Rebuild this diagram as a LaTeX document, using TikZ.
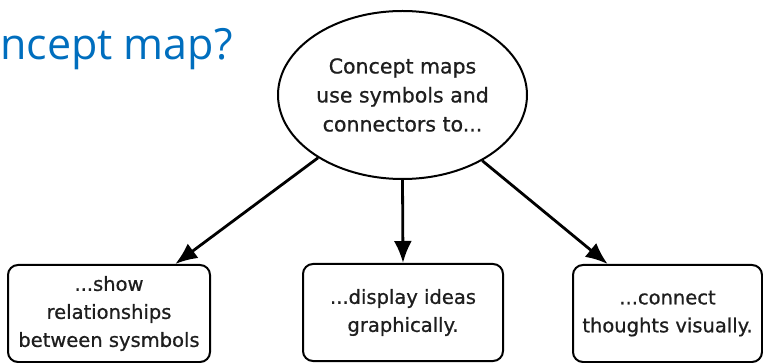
\documentclass[tikz,border=0pt]{standalone}
\usepackage{fontspec}
\setmainfont{DejaVu Sans}
\newfontfamily\nodefont{DejaVu Sans}[FakeBold=0.8]
\newfontfamily\titlefont{Open Sans}
\usetikzlibrary{shapes.geometric,arrows.meta}
\definecolor{titleblue}{RGB}{0,110,190}
\definecolor{ink}{RGB}{30,30,30}
\begin{document}
\begin{tikzpicture}[x=1pt,y=-1pt,
  concept/.style={ellipse,draw,line width=2pt,minimum width=249pt,minimum height=168pt,inner sep=0pt,align=center,text=ink,font=\nodefont\fontsize{20.5}{29}\selectfont},
  box/.style={draw,rounded corners=10pt,line width=2pt,minimum height=97pt,inner sep=0pt,align=center,text=ink,font=\nodefont\fontsize{19.5}{28}\selectfont},
  arr/.style={line width=2.8pt,-{Latex[length=22pt,width=18pt]}}]
\useasboundingbox (0,0) rectangle (763,363);
\node[anchor=base west,text=titleblue,font=\titlefont\fontsize{43}{50}\selectfont,inner sep=0pt] (title) at (0,60) {ncept map?};
\node[concept] (c) at (402.5,95) {Concept maps\\use symbols and\\connectors to...};
\node[box,minimum width=202pt] (l) at (109,313.5) {...show\\relationships\\between sysmbols};
\node[box,minimum width=200pt] (m) at (403,312.5) {...display ideas\\graphically.};
\node[box,minimum width=189pt] (r) at (667.5,313.5) {...connect\\thoughts visually.};
\draw[arr] (c) -- (l);
\draw[arr] (c.south) -- (m.north);
\draw[arr] (c) -- (r);
\end{tikzpicture}
\end{document}
